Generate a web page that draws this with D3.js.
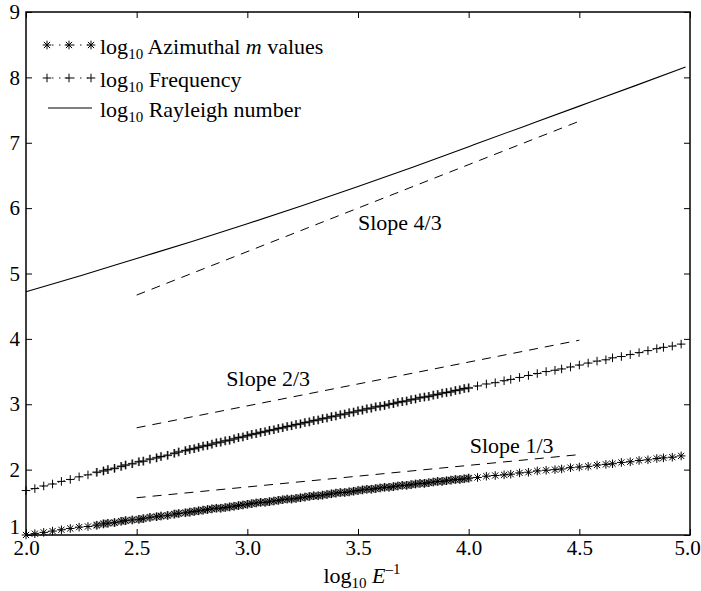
<!DOCTYPE html>
<html>
<head>
<meta charset="utf-8">
<script src="https://cdn.jsdelivr.net/npm/d3@7"></script>
<style>
  body { margin: 0; background: #fff; }
  svg text { font-family: "Liberation Serif", "Times New Roman", serif; fill: #000; }
</style>
</head>
<body>
<svg id="chart" width="701" height="591"></svg>
<script>
// tick labels
var xTicks = [2.0, 2.5, 3.0, 3.5, 4.0, 4.5, 5.0];
var yTicks = [1, 2, 3, 4, 5, 6, 7, 8, 9];

// log10 E^-1 positions of the markers (shared by both marker series)
var markerX = [
    2.00, 2.04, 2.08, 2.12, 2.16, 2.20, 2.24, 2.28,
    2.32, 2.35, 2.37, 2.40, 2.43, 2.45, 2.48, 2.51, 2.53, 2.56, 2.59, 2.61, 2.64, 2.67, 2.69, 2.72,
    2.74, 2.76, 2.78, 2.80, 2.82, 2.84, 2.86, 2.88, 2.90, 2.92, 2.94, 2.96, 2.98, 3.00,
    3.02, 3.04, 3.06, 3.08, 3.10, 3.12, 3.14, 3.16, 3.18, 3.20, 3.22, 3.24, 3.26, 3.28, 3.30,
    3.32, 3.34, 3.36, 3.38, 3.40, 3.42, 3.44, 3.46, 3.48, 3.50,
    3.52, 3.54, 3.56, 3.58, 3.60, 3.62, 3.64, 3.66, 3.68, 3.70, 3.72, 3.74, 3.76, 3.78, 3.80,
    3.82, 3.84, 3.86, 3.88, 3.90, 3.92, 3.94, 3.96, 3.98, 4.00,
    4.04, 4.08, 4.12, 4.16, 4.19, 4.23, 4.27, 4.31, 4.35, 4.39, 4.42, 4.46, 4.50,
    4.54, 4.58, 4.62, 4.65, 4.69, 4.73, 4.77, 4.81, 4.85, 4.88, 4.92, 4.96
];

// log10 azimuthal m values
var azimuthal = [
    1.00, 1.02, 1.04, 1.06, 1.08, 1.10, 1.12, 1.13,
    1.15, 1.17, 1.18, 1.19, 1.21, 1.22, 1.23, 1.24, 1.25, 1.27, 1.28, 1.29, 1.30, 1.32, 1.33, 1.34,
    1.35, 1.36, 1.37, 1.38, 1.39, 1.40, 1.41, 1.41, 1.42, 1.43, 1.44, 1.45, 1.46, 1.47,
    1.48, 1.49, 1.50, 1.50, 1.51, 1.52, 1.53, 1.54, 1.55, 1.55, 1.56, 1.57, 1.58, 1.59, 1.60,
    1.60, 1.61, 1.62, 1.63, 1.64, 1.65, 1.65, 1.66, 1.67, 1.68,
    1.69, 1.70, 1.70, 1.71, 1.72, 1.73, 1.73, 1.74, 1.75, 1.76, 1.76, 1.77, 1.78, 1.79, 1.79,
    1.80, 1.81, 1.82, 1.82, 1.83, 1.84, 1.85, 1.85, 1.86, 1.87,
    1.88, 1.90, 1.91, 1.92, 1.93, 1.95, 1.96, 1.98, 1.99, 2.00, 2.01, 2.03, 2.04,
    2.05, 2.07, 2.08, 2.09, 2.11, 2.12, 2.14, 2.15, 2.17, 2.18, 2.19, 2.21
];

// log10 frequency
var frequency = [
    1.68, 1.71, 1.75, 1.78, 1.82, 1.85, 1.89, 1.92,
    1.96, 1.98, 2.00, 2.02, 2.05, 2.07, 2.09, 2.12, 2.13, 2.16, 2.18, 2.20, 2.22, 2.25, 2.27, 2.29,
    2.31, 2.32, 2.34, 2.36, 2.37, 2.39, 2.41, 2.42, 2.44, 2.45, 2.47, 2.49, 2.50, 2.52,
    2.54, 2.55, 2.57, 2.58, 2.60, 2.61, 2.63, 2.64, 2.66, 2.67, 2.69, 2.70, 2.72, 2.73, 2.75,
    2.76, 2.78, 2.79, 2.81, 2.82, 2.84, 2.85, 2.87, 2.88, 2.90,
    2.91, 2.93, 2.94, 2.96, 2.97, 2.98, 3.00, 3.01, 3.03, 3.04, 3.05, 3.07, 3.08, 3.10, 3.11,
    3.12, 3.14, 3.15, 3.17, 3.18, 3.19, 3.21, 3.22, 3.24, 3.25,
    3.28, 3.31, 3.33, 3.36, 3.38, 3.41, 3.44, 3.47, 3.50, 3.52, 3.54, 3.57, 3.60,
    3.63, 3.66, 3.68, 3.71, 3.73, 3.76, 3.79, 3.82, 3.85, 3.87, 3.89, 3.92
];

// log10 Rayleigh number (solid curve)
var rayleighX = [2.00, 2.25, 2.50, 2.75, 3.00, 3.25, 3.50, 3.75, 4.00, 4.25, 4.50, 4.75, 4.98];
var rayleigh  = [4.72, 4.97, 5.23, 5.49, 5.76, 6.04, 6.33, 6.63, 6.94, 7.25, 7.56, 7.87, 8.16];

// reference slopes (dashed)
var slopeX = [2.5, 4.5];
var slope43 = [4.67, 7.33];
var slope23 = [2.64, 3.98];
var slope13 = [1.57, 2.23];
var slopeLabels = ["Slope 4/3", "Slope 2/3", "Slope 1/3"];

var svg = d3.select("#chart");
var mLeft = 26, mRight = 690, mTop = 12, mBottom = 535;

var x = d3.scaleLinear().domain([2, 5]).range([mLeft, mRight]);
var y = d3.scaleLinear().domain([1, 9]).range([mBottom, mTop]);

var tickFont = 21;
var textFont = 22;

//axes, ticks pointing inward on all four sides
var gx = svg.append("g").attr("transform", "translate(0," + mBottom + ")")
    .call(d3.axisBottom(x).tickValues(xTicks).tickFormat(d3.format(".1f")).tickSizeInner(-6).tickSizeOuter(0).tickPadding(5));
var gxt = svg.append("g").attr("transform", "translate(0," + mTop + ")")
    .call(d3.axisTop(x).tickValues(xTicks).tickFormat("").tickSizeInner(-6).tickSizeOuter(0));
var gy = svg.append("g").attr("transform", "translate(" + mLeft + ",0)")
    .call(d3.axisLeft(y).tickValues(yTicks).tickFormat(d3.format("d")).tickSizeInner(-6).tickSizeOuter(0).tickPadding(6));
var gyr = svg.append("g").attr("transform", "translate(" + mRight + ",0)")
    .call(d3.axisRight(y).tickValues(yTicks).tickFormat("").tickSizeInner(-6).tickSizeOuter(0));

[gx, gxt, gy, gyr].forEach(function(g) {
    g.attr("font-family", null);
    g.select(".domain").remove();
    g.selectAll(".tick line").attr("stroke", "#000").attr("stroke-width", 1);
    g.selectAll(".tick text").attr("font-size", tickFont)
        .style("font-family", "'Liberation Serif', serif");
});
// keep the last x label inside the picture, lift the "1" off the "2.0"
gx.selectAll(".tick text").filter(function(d) { return d == 5; }).attr("dx", -3);
gy.selectAll(".tick text").filter(function(d) { return d == 1; }).attr("dy", "-0.08em");

svg.append("rect")
    .attr("x", mLeft).attr("y", mTop)
    .attr("width", mRight - mLeft).attr("height", mBottom - mTop)
    .attr("fill", "none").attr("stroke", "#000").attr("stroke-width", 1.5);

//x label: log10 E^-1
var xl = svg.append("text")
    .attr("x", 362).attr("y", 583)
    .attr("text-anchor", "middle").attr("font-size", textFont);
xl.append("tspan").text("log");
xl.append("tspan").attr("font-size", 15).attr("dy", 5).text("10");
xl.append("tspan").attr("dy", -5).text(" ");
xl.append("tspan").attr("font-style", "italic").text("E");
xl.append("tspan").attr("font-size", 15).attr("dy", -9).text("\u20131");

//rayleigh curve
var rayPts = rayleighX.map(function(d, i) { return [d, rayleigh[i]]; });
svg.append("path")
    .datum(rayPts)
    .attr("fill", "none").attr("stroke", "#000").attr("stroke-width", 1.1)
    .attr("d", d3.line().curve(d3.curveNatural)
        .x(function(d) { return x(d[0]); })
        .y(function(d) { return y(d[1]); }));

//slope lines
[slope43, slope23, slope13].forEach(function(s) {
    svg.append("line")
        .attr("x1", x(slopeX[0])).attr("y1", y(s[0]))
        .attr("x2", x(slopeX[1])).attr("y2", y(s[1]))
        .attr("stroke", "#000").attr("stroke-width", 1)
        .attr("stroke-dasharray", "9,7");
});

var labelPos = [[3.50, 5.66], [2.905, 3.28], [4.005, 2.26]];
slopeLabels.forEach(function(t, i) {
    svg.append("text")
        .attr("x", x(labelPos[i][0])).attr("y", y(labelPos[i][1]))
        .attr("font-size", textFont).text(t);
});

//marker shapes
function plusPath(cx, cy, r) {
    return "M" + (cx - r) + "," + cy + "H" + (cx + r) + "M" + cx + "," + (cy - r) + "V" + (cy + r);
}
function starPath(cx, cy, r) {
    var d = r * 0.72;
    return plusPath(cx, cy, r) +
        "M" + (cx - d) + "," + (cy - d) + "L" + (cx + d) + "," + (cy + d) +
        "M" + (cx - d) + "," + (cy + d) + "L" + (cx + d) + "," + (cy - d);
}

function drawSeries(values, shape) {
    var pts = markerX.map(function(d, i) { return [d, values[i]]; });
    svg.append("path")
        .datum(pts)
        .attr("fill", "none").attr("stroke", "#000").attr("stroke-width", 0.9)
        .attr("stroke-dasharray", "1.5,4")
        .attr("d", d3.line().x(function(d) { return x(d[0]); }).y(function(d) { return y(d[1]); }));
    //grey halo where the markers crowd together
    svg.append("g").selectAll("path")
        .data(pts.filter(function(d) { return d[0] > 2.3 && d[0] <= 4.0; }))
        .enter().append("path")
        .attr("fill", "none").attr("stroke", "#9a9a9a").attr("stroke-width", 2.2)
        .attr("d", function(d) { return shape(x(d[0]), y(d[1]), 4.3); });
    svg.append("g").selectAll("path")
        .data(pts)
        .enter().append("path")
        .attr("fill", "none").attr("stroke", "#000").attr("stroke-width", 1)
        .attr("d", function(d) { return shape(x(d[0]), y(d[1]), 4.3); });
}

drawSeries(frequency, plusPath);
drawSeries(azimuthal, starPath);

//legend
var legend = svg.append("g");
var rows = [
    { shape: starPath, y: 45, text: [["log", 0], ["10", 1], [" Azimuthal ", 0], ["m", 2], [" values", 0]] },
    { shape: plusPath, y: 78, text: [["log", 0], ["10", 1], [" Frequency", 0]] },
    { shape: null, y: 108, text: [["log", 0], ["10", 1], [" Rayleigh number", 0]] }
];
rows.forEach(function(r) {
    if (r.shape) {
        legend.append("line")
            .attr("x1", 47).attr("x2", 91).attr("y1", r.y).attr("y2", r.y)
            .attr("stroke", "#000").attr("stroke-width", 0.9).attr("stroke-dasharray", "1.5,5.5")
            .attr("stroke-dashoffset", -5);
        [47, 69, 91].forEach(function(px) {
            legend.append("path").attr("fill", "none").attr("stroke", "#000").attr("stroke-width", 1)
                .attr("d", r.shape(px, r.y, 4.3));
        });
    } else {
        legend.append("line")
            .attr("x1", 48).attr("x2", 92).attr("y1", r.y).attr("y2", r.y)
            .attr("stroke", "#000").attr("stroke-width", 1.1);
    }
    var t = legend.append("text").attr("x", 100).attr("y", r.y + 9).attr("font-size", textFont);
    var shifted = false;
    r.text.forEach(function(p) {
        var ts = t.append("tspan").text(p[0]);
        if (p[1] == 1) {
            ts.attr("font-size", 15).attr("dy", 5);
            shifted = true;
        } else if (shifted) {
            ts.attr("dy", -5);
            shifted = false;
        }
        if (p[1] == 2) ts.attr("font-style", "italic");
    });
});
</script>
</body>
</html>
